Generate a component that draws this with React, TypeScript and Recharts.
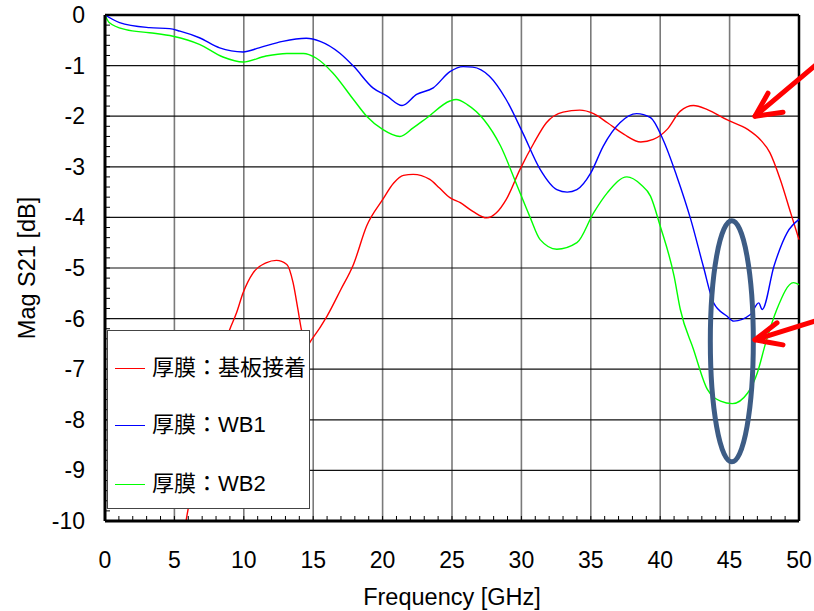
import React from "react";
import {
  LineChart,
  Line,
  XAxis,
  YAxis,
  ReferenceLine,
  ReferenceDot,
  Legend,
} from "recharts";

const FONT = '"Liberation Sans", Arial, "Noto Sans CJK JP", sans-serif';

// 厚膜:基板接着 (red)
const redFreq = [
  5.6, 5.9, 7.0, 8.0, 8.98, 9.47, 9.95, 10.66, 11.6, 12.35, 13.1, 13.55, 13.9,
  14.15, 14.5, 14.9, 16.0, 17.0, 17.9, 18.85, 20.0, 20.8, 21.5, 22.2, 23.4,
  24.1, 24.85, 25.6, 26.5, 27.5, 28.2, 28.9, 29.9, 30.9, 31.8, 33.0, 34.2,
  35.2, 36.2, 37.4, 38.6, 39.5, 40.5, 41.45, 42.4, 43.4, 44.8, 46.3, 47.2,
  47.9, 48.65, 49.4, 50,
];
const redMag = [
  -10.4, -9.9, -8.5, -7.2, -6.22, -5.89, -5.49, -5.1, -4.9, -4.85, -4.93,
  -5.29, -5.82, -6.22, -6.55, -6.41, -5.95, -5.42, -4.93, -4.17, -3.65, -3.32,
  -3.17, -3.15, -3.25, -3.42, -3.61, -3.71, -3.88, -4.01, -3.91, -3.65, -3.05,
  -2.53, -2.13, -1.92, -1.88, -1.95, -2.13, -2.36, -2.51, -2.46, -2.26, -1.9,
  -1.79, -1.87, -2.07, -2.26, -2.46, -2.72, -3.25, -3.91, -4.44,
];

// 厚膜:WB1 (blue)
const blueFreq = [
  0, 1.05, 3.2, 4.65, 5.4, 6.8, 8.26, 9.94, 11.1, 12.8, 14.5, 15.5, 16.9, 17.9,
  19.3, 20.3, 21.4, 22.45, 23.65, 24.85, 25.8, 26.5, 27.7, 28.9, 30.1, 31.35,
  32.55, 33.3, 34.0, 35.0, 35.9, 37.1, 38.3, 39.3, 40.2, 41.2, 42.2, 43.1,
  43.85, 44.8, 45.3, 46.5, 47.1, 47.35, 48.2, 49.15, 50,
];
const blueMag = [
  0, -0.15, -0.25, -0.27, -0.32, -0.45, -0.65, -0.73, -0.65, -0.52, -0.46,
  -0.52, -0.75, -1.01, -1.44, -1.6, -1.79, -1.57, -1.44, -1.12, -1.02, -1.03,
  -1.21, -1.67, -2.33, -3.05, -3.45, -3.5, -3.45, -3.12, -2.59, -2.13, -1.95,
  -2.03, -2.46, -3.19, -4.04, -4.96, -5.69, -5.95, -6.05, -5.92, -5.69, -5.82,
  -4.96, -4.3, -4.04,
];

// 厚膜:WB2 (green)
const greenFreq = [
  0, 0.3, 1.5, 3.2, 4.9, 6.8, 8.5, 9.94, 11.6, 13.1, 14.3, 15.2, 16.4, 17.9,
  18.85, 20.0, 21.25, 22.2, 23.2, 24.85, 25.3, 26.1, 27.3, 28.5, 29.7, 30.6,
  31.35, 32.55, 34.0, 35.2, 36.2, 37.6, 38.6, 39.3, 40.0, 41.0, 41.45, 42.4,
  43.4, 44.35, 45.2, 46.3, 47.0, 47.6, 48.4, 49.6, 50,
];
const greenMag = [
  0, -0.15, -0.29, -0.35, -0.42, -0.58, -0.83, -0.93, -0.81, -0.76, -0.76,
  -0.85, -1.14, -1.67, -2.0, -2.26, -2.4, -2.23, -2.03, -1.7, -1.67, -1.77,
  -2.07, -2.59, -3.38, -3.98, -4.44, -4.63, -4.5, -3.91, -3.51, -3.2, -3.35,
  -3.58, -4.17, -5.16, -5.82, -6.61, -7.4, -7.63, -7.68, -7.47, -7.07, -6.48,
  -5.82, -5.29, -5.33,
];

const seriesNames = ["厚膜：基板接着", "厚膜：WB1", "厚膜：WB2"];
const seriesColors = ["#ff0000", "#0000ff", "#00ff00"];

const xMajorTicks = [0, 5, 10, 15, 20, 25, 30, 35, 40, 45, 50];
const yMajorTicks = [0, -1, -2, -3, -4, -5, -6, -7, -8, -9, -10];
const xGrid = [5, 10, 15, 20, 25, 30, 35, 40, 45];
const yGrid = [-1, -2, -3, -4, -5, -6, -7, -8, -9];
const xMinorTicks = Array.from({ length: 51 }, (_, i) => i);
const yMinorTicks = Array.from(
  { length: 51 },
  (_, i) => Math.round((-10 + i * 0.2) * 10) / 10
);

const toRows = (xs: number[], ys: number[]) =>
  xs.map((x, i) => ({ x, y: ys[i] }));

const redData = toRows(redFreq, redMag);
const blueData = toRows(blueFreq, blueMag);
const greenData = toRows(greenFreq, greenMag);

const XTick = (props: any) => {
  const { x, y, payload } = props;
  if (!xMajorTicks.includes(payload.value)) return <g />;
  return (
    <text x={x} y={y + 47} textAnchor="middle" fontSize={23} fill="#000" fontFamily={FONT}>
      {payload.value}
    </text>
  );
};

const YTick = (props: any) => {
  const { x, y, payload } = props;
  if (!yMajorTicks.includes(payload.value)) return <g />;
  return (
    <text x={x - 20} y={y + 8} textAnchor="end" fontSize={23} fill="#000" fontFamily={FONT}>
      {payload.value}
    </text>
  );
};

const rowTops = [37, 94, 153];

const renderLegend = (props: any) => {
  const items = [...(props.payload || [])].sort(
    (a: any, b: any) => seriesNames.indexOf(a.value) - seriesNames.indexOf(b.value)
  );
  return (
    <div
      style={{
        width: 203,
        height: 179,
        boxSizing: "border-box",
        border: "1.5px solid #444",
        background: "#fff",
        position: "relative",
        fontFamily: FONT,
      }}
    >
      {items.map((entry: any, i: number) => (
        <div
          key={i}
          style={{
            position: "absolute",
            left: 7,
            top: rowTops[i],
            transform: "translateY(-50%)",
            display: "flex",
            alignItems: "center",
            whiteSpace: "nowrap",
          }}
        >
          <span
            style={{
              display: "inline-block",
              width: 30,
              borderTop: `1.5px solid ${entry.color}`,
              marginRight: 7,
            }}
          />
          <span style={{ fontSize: 22, lineHeight: 1, color: "#000" }}>{entry.value}</span>
        </div>
      ))}
    </div>
  );
};

const EllipseMark = (p: any) => (
  <ellipse cx={p.cx} cy={p.cy} rx={21.5} ry={120.5} fill="none" stroke="#3d5c85" strokeWidth={5} />
);

const makeArrow =
  (shaft: number[], headA: number[], headB: number[]) => (p: any) =>
    (
      <g stroke="#ff0000" strokeWidth={5} fill="none" strokeLinecap="round" strokeLinejoin="round">
        <line x1={p.cx} y1={p.cy} x2={p.cx + shaft[0]} y2={p.cy + shaft[1]} />
        <polyline
          points={`${p.cx + headA[0]},${p.cy + headA[1]} ${p.cx},${p.cy} ${p.cx + headB[0]},${p.cy + headB[1]}`}
        />
      </g>
    );

const UpperArrow = makeArrow([64, -54], [13, -23], [28, -4]);
const LowerArrow = makeArrow([64, -20], [22, -17], [28, 5]);

export default function App() {
  return (
    <div style={{ position: "absolute", left: 0, top: 0, width: 814, height: 611, fontFamily: FONT }}>
      <LineChart width={814} height={611} margin={{ top: 15, right: 15, bottom: 0, left: 8 }}>
        <XAxis
          type="number"
          dataKey="x"
          domain={[0, 50]}
          ticks={xMinorTicks}
          interval={0}
          tickSize={-5}
          tickMargin={5}
          tick={XTick}
          tickLine={{ stroke: "#000", strokeWidth: 1 }}
          axisLine={{ stroke: "#000", strokeWidth: 3 }}
          height={90}
          label={{
            value: "Frequency [GHz]",
            position: "insideBottom",
            offset: 6,
            style: { fontSize: 23.5, fill: "#000", fontFamily: FONT },
          }}
        />
        <YAxis
          type="number"
          domain={[-10, 0]}
          allowDataOverflow
          ticks={yMinorTicks}
          interval={0}
          tickSize={-5}
          tickMargin={5}
          tick={YTick}
          tickLine={{ stroke: "#000", strokeWidth: 1 }}
          axisLine={{ stroke: "#000", strokeWidth: 3 }}
          width={97}
          label={{
            value: "Mag S21 [dB]",
            angle: -90,
            position: "insideLeft",
            offset: 19,
            style: { fontSize: 23.5, fill: "#000", fontFamily: FONT, textAnchor: "middle" },
          }}
        />
        {xGrid.map((v) => (
          <ReferenceLine key={"vx" + v} x={v} stroke="#7a7a7a" strokeWidth={1.6} />
        ))}
        {yGrid.map((v) => (
          <ReferenceLine key={"hy" + v} y={v} stroke="#111" strokeWidth={1.2} />
        ))}
        <ReferenceLine y={0} stroke="#000" strokeWidth={2.5} />
        <ReferenceLine x={50} stroke="#000" strokeWidth={2.5} />
        <Line
          data={redData}
          dataKey="y"
          name={seriesNames[0]}
          type="monotone"
          stroke={seriesColors[0]}
          strokeWidth={1.4}
          dot={false}
          isAnimationActive={false}
        />
        <Line
          data={blueData}
          dataKey="y"
          name={seriesNames[1]}
          type="monotone"
          stroke={seriesColors[1]}
          strokeWidth={1.4}
          dot={false}
          isAnimationActive={false}
        />
        <Line
          data={greenData}
          dataKey="y"
          name={seriesNames[2]}
          type="monotone"
          stroke={seriesColors[2]}
          strokeWidth={1.4}
          dot={false}
          isAnimationActive={false}
        />
        <ReferenceDot x={45.16} y={-6.45} r={1} shape={EllipseMark} />
        <ReferenceDot x={46.83} y={-2.0} r={1} shape={UpperArrow} />
        <ReferenceDot x={46.83} y={-6.42} r={1} shape={LowerArrow} />
        <Legend
          layout="vertical"
          align="center"
          verticalAlign="middle"
          content={renderLegend}
          wrapperStyle={{ left: 107, top: 330, width: 203, height: 179 }}
        />
      </LineChart>
    </div>
  );
}
